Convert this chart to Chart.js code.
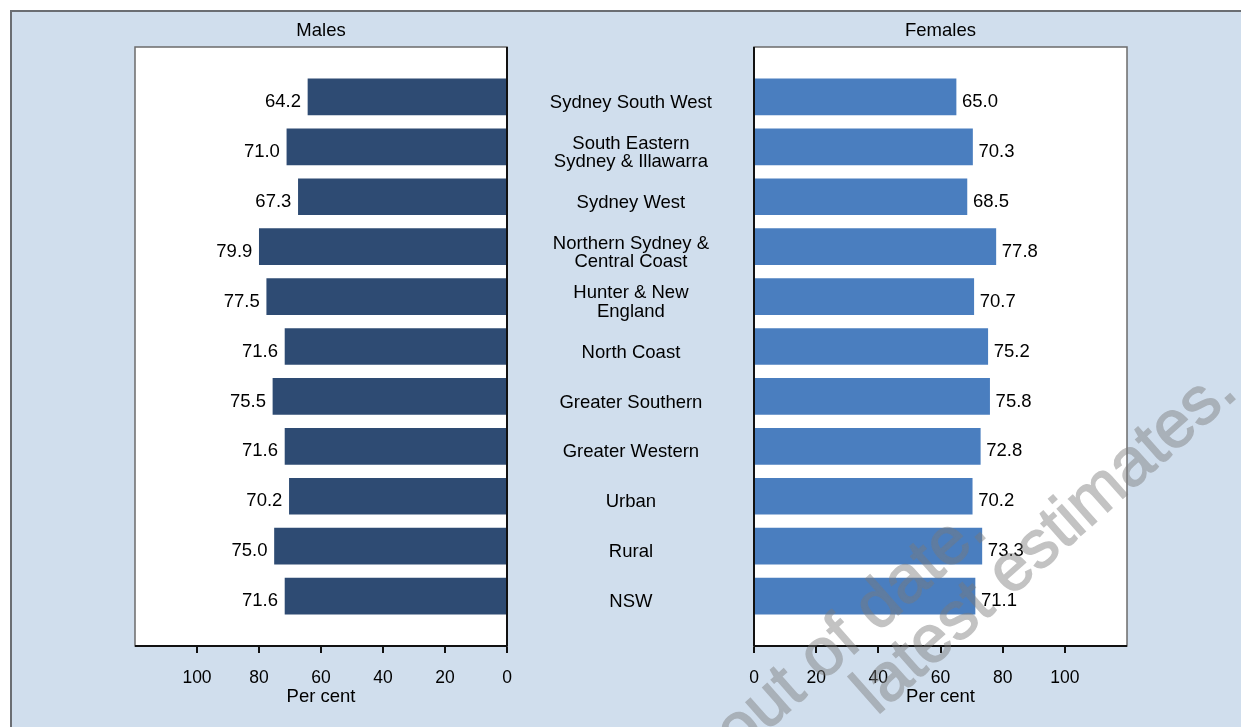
<!DOCTYPE html>
<html>
<head>
<meta charset="utf-8">
<script src="https://cdn.jsdelivr.net/npm/chart.js@4"></script>
<style>
  html, body { margin: 0; padding: 0; background: #fff; overflow: hidden; }
  #wrap { position: relative; width: 1241px; height: 727px; overflow: hidden; }
  #frame { position: absolute; left: 10px; top: 10px; width: 1260px; height: 740px;
           background: #d0deed; border: 2px solid #6b6e73; box-sizing: border-box; }
  canvas { position: absolute; left: 0; top: 0; }
  .wm { position: absolute; width: 0; height: 0; transform-origin: 0 0;
        transform: rotate(-41.5deg); pointer-events: none; }
  .wm span { position: absolute; right: 0; bottom: -14px; line-height: 1; white-space: nowrap;
             font: 67px "Liberation Sans", Arial, sans-serif; color: #7a7a7a; opacity: 0.45;
             -webkit-text-stroke: 1.5px #7a7a7a; }
</style>
</head>
<body>
<div id="wrap">
  <div id="frame"></div>
  <canvas id="males" width="1241" height="727"></canvas>
  <canvas id="females" width="1241" height="727"></canvas>
  <div class="wm" style="left:990px; top:535px;"><span>out of date.</span></div>
  <div class="wm" style="left:1240px; top:396px;"><span>latest estimates.</span></div>
</div>
<script>
// Daten
const regions = [
  'Sydney South West',
  ['South Eastern', 'Sydney & Illawarra'],
  'Sydney West',
  ['Northern Sydney &', 'Central Coast'],
  ['Hunter & New', 'England'],
  'North Coast',
  'Greater Southern',
  'Greater Western',
  'Urban',
  'Rural',
  'NSW'
];
const males = [64.2, 71.0, 67.3, 79.9, 77.5, 71.6, 75.5, 71.6, 70.2, 75.0, 71.6];
const females = [65.0, 70.3, 68.5, 77.8, 70.7, 75.2, 75.8, 72.8, 70.2, 73.3, 71.1];
const xTicks = [0, 20, 40, 60, 80, 100];
const xMax = 120;

const FONT = '"Liberation Sans", Arial, sans-serif';
Chart.defaults.font.family = FONT;
Chart.defaults.color = '#000';

// leere Kategorien oben und unten als Abstand
const cats = ['', ...regions, ''];
const pad = arr => [null, ...arr, null];

// weisse Flaeche, Rahmen, Werte und Titel
const panelPlugin = {
  id: 'panel',
  beforeDraw(chart) {
    const a = chart.chartArea, ctx = chart.ctx;
    ctx.save();
    ctx.fillStyle = '#fff';
    ctx.fillRect(a.left, a.top, a.right - a.left, a.bottom - a.top);
    ctx.restore();
  },
  afterDraw(chart, args, opts) {
    const a = chart.chartArea, ctx = chart.ctx;
    ctx.save();
    ctx.strokeStyle = '#6b6b6b';
    ctx.lineWidth = 1.5;
    ctx.strokeRect(a.left, a.top, a.right - a.left, a.bottom - a.top);

    ctx.strokeStyle = '#111';
    ctx.lineWidth = 2;
    const zx = chart.scales.x.getPixelForValue(0);
    ctx.beginPath();
    ctx.moveTo(zx, a.top); ctx.lineTo(zx, a.bottom);
    ctx.moveTo(a.left, a.bottom); ctx.lineTo(a.right, a.bottom);
    ctx.stroke();

    const rev = chart.options.scales.x.reverse;
    ctx.fillStyle = '#000';
    ctx.font = '18.5px ' + FONT;
    ctx.textBaseline = 'middle';
    ctx.textAlign = rev ? 'right' : 'left';
    const vals = chart.data.datasets[0].data;
    chart.getDatasetMeta(0).data.forEach((el, i) => {
      if (vals[i] == null) return;
      ctx.fillText(vals[i].toFixed(1), el.x + (rev ? -7 : 6), el.y + 5);
    });

    ctx.textAlign = 'center';
    ctx.fillText(opts.title, (a.left + a.right) / 2, a.top - 16);
    ctx.restore();
  }
};

function makeChart(id, values, color, side) {
  const left = side === 'left';
  return new Chart(document.getElementById(id), {
    type: 'bar',
    data: {
      labels: cats,
      datasets: [{ data: pad(values), backgroundColor: color, barThickness: 36, borderWidth: 0 }]
    },
    plugins: [panelPlugin],
    options: {
      responsive: false,
      animation: false,
      indexAxis: 'y',
      layout: { padding: left ? { left: 135, right: 734, top: 47, bottom: 11 }
                              : { left: 507, right: 114, top: 47, bottom: 11 } },
      plugins: {
        legend: { display: false },
        tooltip: { enabled: false },
        panel: { title: left ? 'Males' : 'Females' }
      },
      scales: {
        x: {
          type: 'linear',
          min: 0,
          max: xMax,
          reverse: left,
          afterBuildTicks: s => { s.ticks = xTicks.map(v => ({ value: v })); },
          afterFit: s => { s.height = 70; s.paddingLeft = 0; s.paddingRight = 0; },
          grid: { drawOnChartArea: false, drawTicks: true, tickLength: 7, color: '#111', lineWidth: 2 },
          border: { display: false },
          ticks: { font: { size: 17.5 }, color: '#000', padding: 15, autoSkip: false, maxRotation: 0 },
          title: { display: true, text: 'Per cent', font: { size: 18.5 }, color: '#000', padding: { top: 0, bottom: 8 } }
        },
        y: {
          type: 'category',
          offset: false,
          display: !left,
          position: 'left',
          afterFit: s => {
            s.width = left ? 0 : 247;
            s.paddingTop = 0;
            s.paddingBottom = 0;
          },
          grid: { display: false, drawTicks: false },
          border: { display: false },
          ticks: { font: { size: 18.5, lineHeight: 1 }, color: '#000', crossAlign: 'center',
                   padding: 42, labelOffset: 6, autoSkip: false }
        }
      }
    }
  });
}

makeChart('males', males, '#2e4b73', 'left');
makeChart('females', females, '#4a7ebf', 'right');
</script>
</body>
</html>
